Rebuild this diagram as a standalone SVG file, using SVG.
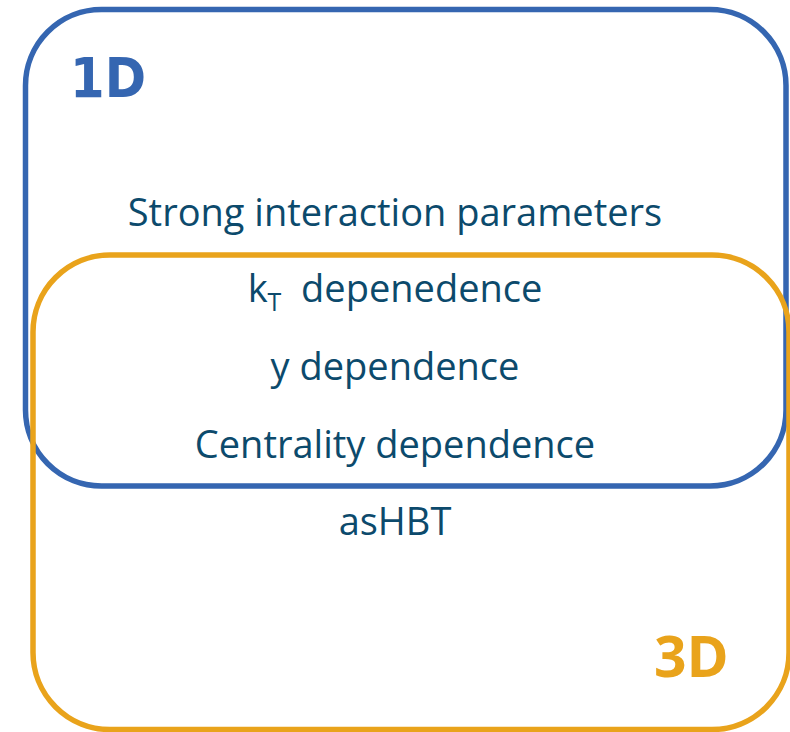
<svg xmlns="http://www.w3.org/2000/svg" width="790" height="732" viewBox="0 0 790 732">
<style>
.box{fill:none;stroke-width:5.5}
.blue{stroke:#3566b1}
.orange{stroke:#e9a31b}
.t{font-family:"Open Sans","Noto Sans",sans-serif;font-size:38px;fill:#0c4a6c;text-anchor:middle}
</style>
<rect width="790" height="732" fill="#ffffff"/>
<g id="set-1D">
<rect class="box blue" x="25.5" y="9.5" width="760.5" height="476.5" rx="76" ry="76"/>
<text x="70" y="97" font-family="'DejaVu Sans',Verdana,sans-serif" font-weight="bold" font-size="56" fill="#3566b1" textLength="76" lengthAdjust="spacingAndGlyphs">1D</text>
</g>
<g id="set-3D">
<rect class="box orange" x="33" y="255" width="756" height="474.5" rx="77" ry="77"/>
<text x="654" y="677" font-family="'Open Sans','Noto Sans',sans-serif" font-weight="bold" font-size="57" fill="#e9a31b">3D</text>
</g>
<g id="labels">
<text class="t" x="395" y="226">Strong interaction parameters</text>
<text class="t" x="395" y="302" xml:space="preserve">k<tspan font-size="25" dy="9">T</tspan><tspan dy="-9">  depenedence</tspan></text>
<text class="t" x="395" y="380">y dependence</text>
<text class="t" x="395" y="458">Centrality dependence</text>
<text class="t" x="395" y="535">asHBT</text>
</g>
<g id="connectors"></g>
</svg>
